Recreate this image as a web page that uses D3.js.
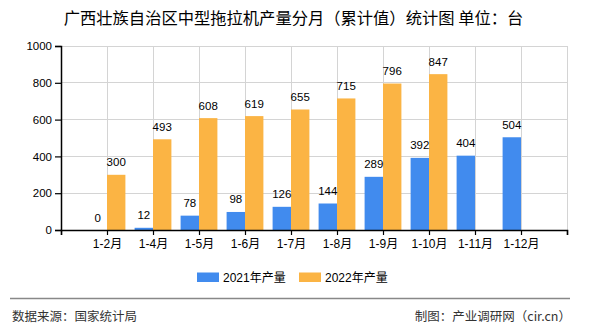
<!DOCTYPE html>
<html><head><meta charset="utf-8">
<script src="https://cdn.jsdelivr.net/npm/d3@7"></script>
<style>
html,body{margin:0;padding:0;background:#fff;}
svg{display:block;font-family:"Liberation Sans","Noto Sans CJK SC",sans-serif;}
</style></head>
<body>
<svg id="chart" width="590" height="330"></svg>
<script>
const categories = ["1-2月","1-4月","1-5月","1-6月","1-7月","1-8月","1-9月","1-10月","1-11月","1-12月"];
const series2021 = [0,12,78,98,126,144,289,392,404,504];
const series2022 = [300,493,608,619,655,715,796,847,null,null];
const yTicks = [0,200,400,600,800,1000];
const seriesNames = ["2021年产量","2022年产量"];
const colors = ["#418BEE","#FBB444"];
const title = "广西壮族自治区中型拖拉机产量分月（累计值）统计图 单位：台";
const sourceText = "数据来源：国家统计局";
const creditText = "制图：产业调研网（cir.cn）";

const svg = d3.select("#chart");
const pLeft = 61, pRight = 567, pTop = 46, pBottom = 230;

const domain = ["__s", ...categories, "__e"];
const x = d3.scalePoint().domain(domain).range([pLeft, pRight]).padding(0);
const y = d3.scaleLinear().domain([0, 1000]).range([pBottom, pTop]);
const step = x.step();
const bw = step * 0.4;

// gridlines
const grid = svg.append("g");
grid.selectAll("line.h").data(yTicks.filter(d => d > 0)).join("line")
  .attr("x1", pLeft).attr("x2", pRight)
  .attr("y1", d => y(d)).attr("y2", d => y(d))
  .attr("stroke", "#d4d4d4").attr("stroke-width", 1).attr("shape-rendering","crispEdges");
grid.selectAll("line.v").data(domain.slice(1)).join("line")
  .attr("x1", d => x(d)).attr("x2", d => x(d))
  .attr("y1", pTop).attr("y2", pBottom)
  .attr("stroke", "#d4d4d4").attr("stroke-width", 1).attr("shape-rendering","crispEdges");

// bars
const rows = categories.map((c, i) => ({c, a: series2021[i], b: series2022[i]}));
const bars = svg.append("g");
bars.selectAll("rect.a").data(rows.filter(r => r.a != null)).join("rect")
  .attr("x", r => x(r.c) - bw).attr("width", bw)
  .attr("y", r => y(r.a)).attr("height", r => pBottom - y(r.a))
  .attr("fill", colors[0]);
bars.selectAll("rect.b").data(rows.filter(r => r.b != null)).join("rect")
  .attr("x", r => x(r.c)).attr("width", bw)
  .attr("y", r => y(r.b)).attr("height", r => pBottom - y(r.b))
  .attr("fill", colors[1]);

// value labels
const labels = svg.append("g").attr("font-size", "11.5px").attr("fill", "#000").attr("text-anchor", "middle");
labels.selectAll("text.a").data(rows.filter(r => r.a != null)).join("text")
  .attr("x", r => x(r.c) - bw / 2).attr("y", r => y(r.a) - 8.5).text(r => r.a);
labels.selectAll("text.b").data(rows.filter(r => r.b != null)).join("text")
  .attr("x", r => x(r.c) + bw / 2).attr("y", r => y(r.b) - 8.5).text(r => r.b);

// axes
const xAxis = d3.axisBottom(x).tickSize(5).tickPadding(4)
  .tickFormat(d => d.startsWith("__") ? "" : d);
const gx = svg.append("g").attr("transform", `translate(0,${pBottom})`).call(xAxis);
gx.select(".domain").attr("stroke", "#000").attr("stroke-width", 1.5);
gx.selectAll(".tick line").attr("stroke", "#000").attr("stroke-width", 1.2);
gx.selectAll(".tick text").attr("font-size", "12px").attr("fill", "#000")
  .attr("font-family", "Liberation Sans, Noto Sans CJK SC, sans-serif");

const yAxis = d3.axisLeft(y).tickValues(yTicks).tickFormat(d3.format("d")).tickSize(6).tickPadding(3);
const gy = svg.append("g").attr("transform", `translate(${pLeft},0)`).call(yAxis);
gy.select(".domain").attr("stroke", "#000").attr("stroke-width", 1.5);
gy.selectAll(".tick line").attr("stroke", "#000").attr("stroke-width", 1.2);
gy.selectAll(".tick text").attr("font-size", "11.5px").attr("fill", "#000")
  .attr("font-family", "Liberation Sans, sans-serif");

// title
svg.append("text").attr("x", 293.5).attr("y", 24).attr("text-anchor", "middle")
  .attr("font-size", "16.3px").attr("font-family", "Noto Sans CJK SC, sans-serif")
  .attr("font-weight", 400).attr("fill", "#000").text(title);

// legend
const legendItems = [{name: seriesNames[0], color: colors[0], x: 197}, {name: seriesNames[1], color: colors[1], x: 299}];
const lg = svg.append("g");
lg.selectAll("rect").data(legendItems).join("rect")
  .attr("x", d => d.x).attr("y", 272.5).attr("width", 22).attr("height", 9.5)
  .attr("fill", d => d.color);
lg.selectAll("text").data(legendItems).join("text")
  .attr("x", d => d.x + 26).attr("y", 281.5)
  .attr("font-size", "12px").attr("fill", "#000")
  .attr("font-family", "Liberation Sans, Noto Sans CJK SC, sans-serif")
  .text(d => d.name);

// footer
svg.append("line").attr("x1", 10).attr("x2", 570).attr("y1", 298.5).attr("y2", 298.5)
  .attr("stroke", "#888").attr("stroke-width", 1.5);
svg.append("text").attr("x", 12).attr("y", 321).attr("font-size", "12.5px")
  .attr("font-family", "Noto Sans CJK SC, sans-serif").attr("fill", "#333").text(sourceText);
svg.append("text").attr("x", 571).attr("y", 321).attr("text-anchor", "end").attr("font-size", "12.5px")
  .attr("font-family", "Noto Sans CJK SC, sans-serif").attr("fill", "#333").text(creditText);
</script>
</body></html>
